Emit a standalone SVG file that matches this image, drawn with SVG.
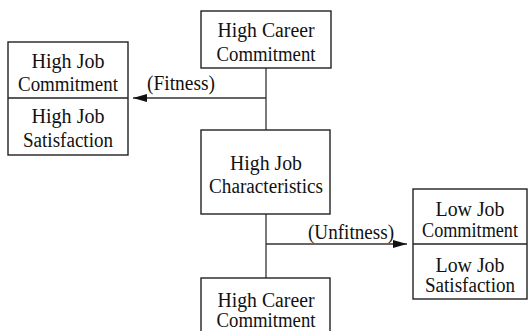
<svg xmlns="http://www.w3.org/2000/svg" width="529" height="331" viewBox="0 0 529 331">
<defs>
<style>
.box { fill: #fff; stroke: #222; stroke-width: 1.4; }
.div { fill: none; stroke: #222; stroke-width: 1.4; }
.conn line { stroke: #333; stroke-width: 1.3; }
.t { font-size: 20px; fill: #111; text-anchor: middle; }
</style>
<marker id="ah" viewBox="0 0 14 8" refX="14" refY="4" markerWidth="14" markerHeight="8" markerUnits="userSpaceOnUse" orient="auto">
<path d="M0,0 L14,4 L0,8 Z" fill="#111"/>
</marker>
</defs>
<g font-family="Liberation Serif, DejaVu Serif, serif">
<g class="conn" id="connectors">
<line x1="266" y1="68" x2="266" y2="130"/>
<line x1="266" y1="98" x2="133" y2="98" marker-end="url(#ah)"/>
<line x1="266" y1="214" x2="266" y2="278"/>
<line x1="266" y1="244" x2="407" y2="244" marker-end="url(#ah)"/>
<text class="t" x="181" y="90" textLength="68" lengthAdjust="spacingAndGlyphs">(Fitness)</text>
<text class="t" x="351" y="239" textLength="86" lengthAdjust="spacingAndGlyphs">(Unfitness)</text>
</g>
<g id="top-career">
<rect class="box" x="201" y="11" width="130" height="57"/>
<text class="t" x="266" y="37" textLength="97" lengthAdjust="spacingAndGlyphs">High  Career</text>
<text class="t" x="266" y="61" textLength="99" lengthAdjust="spacingAndGlyphs">Commitment</text>
</g>
<g id="high-outcome">
<rect class="box" x="8" y="42" width="120" height="113"/>
<line class="div" x1="8" y1="98" x2="128" y2="98"/>
<text class="t" x="68" y="68" textLength="73" lengthAdjust="spacingAndGlyphs">High  Job</text>
<text class="t" x="68" y="91" textLength="100" lengthAdjust="spacingAndGlyphs">Commitment</text>
<text class="t" x="68" y="123" textLength="73" lengthAdjust="spacingAndGlyphs">High  Job</text>
<text class="t" x="68" y="147" textLength="90" lengthAdjust="spacingAndGlyphs">Satisfaction</text>
</g>
<g id="job-characteristics">
<rect class="box" x="201" y="130" width="129" height="84"/>
<text class="t" x="266" y="170" textLength="72" lengthAdjust="spacingAndGlyphs">High  Job</text>
<text class="t" x="266" y="193" textLength="114" lengthAdjust="spacingAndGlyphs">Characteristics</text>
</g>
<g id="low-outcome">
<rect class="box" x="413" y="189" width="114" height="110"/>
<line class="div" x1="413" y1="244" x2="527" y2="244"/>
<text class="t" x="470" y="216" textLength="69" lengthAdjust="spacingAndGlyphs">Low  Job</text>
<text class="t" x="470" y="237" textLength="96" lengthAdjust="spacingAndGlyphs">Commitment</text>
<text class="t" x="470" y="272" textLength="69" lengthAdjust="spacingAndGlyphs">Low  Job</text>
<text class="t" x="470" y="292" textLength="90" lengthAdjust="spacingAndGlyphs">Satisfaction</text>
</g>
<g id="bottom-career">
<rect class="box" x="201" y="278" width="129" height="60"/>
<text class="t" x="266" y="307" textLength="97" lengthAdjust="spacingAndGlyphs">High  Career</text>
<text class="t" x="266" y="327" textLength="99" lengthAdjust="spacingAndGlyphs">Commitment</text>
</g>
</g>
</svg>
